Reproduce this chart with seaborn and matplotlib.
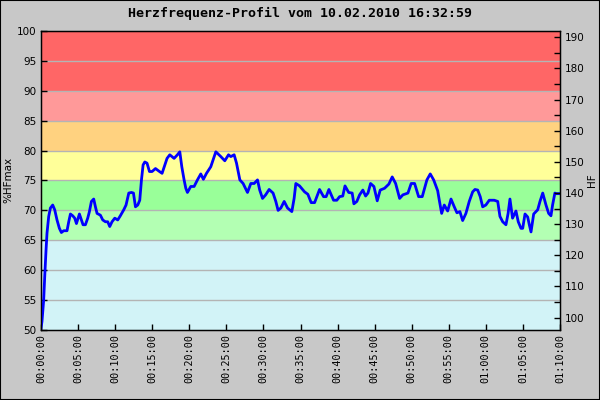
import matplotlib
matplotlib.use("Agg")
import matplotlib.pyplot as plt
import seaborn as sns
import pandas as pd
from matplotlib.patches import Rectangle

title = "Herzfrequenz-Profil vom 10.02.2010 16:32:59"
hf_max = 192

minutes = [0.0, 0.13, 0.36, 0.5, 0.68, 0.81, 1.04, 1.27, 1.58, 1.85, 2.16, 2.48, 2.75, 3.06, 3.51,
           3.74, 3.97, 4.28, 4.55, 4.78, 5.0, 5.18, 5.45, 5.67, 5.99, 6.3, 6.53, 6.8, 7.11, 7.34,
           7.56, 8.01, 8.33, 8.69, 9.0, 9.27, 9.58, 9.95, 10.35, 10.7, 11.16, 11.47, 11.84, 12.2,
           12.47, 12.74, 13.05, 13.32, 13.55, 13.77, 14.0, 14.3, 14.63, 14.98, 15.44, 15.98, 16.33,
           16.7, 17.0, 17.37, 17.95, 18.4, 18.72, 18.99, 19.3, 19.53, 19.75, 20.2, 20.65, 21.1,
           21.55, 21.9, 22.32, 22.9, 23.2, 23.58, 24.25, 24.79, 25.29, 25.6, 26.05, 26.37, 26.82,
           27.26, 27.85, 28.3, 28.75, 29.2, 29.5, 29.88, 30.3, 30.77, 31.3, 31.67, 31.98, 32.35,
           32.8, 33.25, 33.83, 34.14, 34.37, 34.87, 35.55, 35.99, 36.44, 36.9, 37.57, 38.11, 38.46,
           38.83, 39.46, 39.9, 40.27, 40.7, 41.0, 41.5, 41.97, 42.2, 42.6, 42.97, 43.41, 43.78,
           44.1, 44.45, 44.9, 45.35, 45.75, 46.34, 46.92, 47.37, 47.83, 48.37, 48.81, 49.49, 49.93,
           50.39, 50.93, 51.42, 51.6, 52.05, 52.5, 52.96, 53.5, 53.72, 54.04, 54.39, 54.85, 55.3,
           55.74, 56.1, 56.5, 56.87, 57.31, 57.76, 58.22, 58.53, 58.9, 59.24, 59.57, 60.0, 60.46,
           61.13, 61.6, 61.9, 62.27, 62.71, 63.0, 63.25, 63.6, 64.06, 64.37, 64.74, 64.97, 65.28,
           65.64, 65.86, 66.09, 66.45, 66.99, 67.3, 67.67, 68.11, 68.47, 68.78, 69.0, 69.31, 69.5,
           70.0]
pct_hfmax = [50.3, 51.4, 55.0, 58.9, 63.4, 66.2, 69.0, 70.4, 70.9, 70.1, 68.4, 67.0, 66.3, 66.6, 66.6,
             68.1, 69.4, 69.1, 68.7, 67.8, 68.7, 69.4, 68.4, 67.6, 67.6, 68.7, 69.8, 71.5, 71.9, 70.6,
             69.5, 69.2, 68.4, 68.1, 68.1, 67.3, 68.1, 68.7, 68.4, 69.1, 70.1, 70.9, 72.9, 73.0,
             72.9, 70.6, 70.9, 71.7, 75.1, 77.6, 78.1, 77.9, 76.5, 76.5, 77.0, 76.5, 76.2,
             77.6, 78.7, 79.3, 78.7, 79.3, 79.8, 77.3, 75.1, 73.7, 73.0, 74.0, 74.0, 75.1,
             76.1, 75.2, 76.2, 77.3, 78.4, 79.8, 79.0, 78.3, 79.3, 79.0, 79.3, 77.9, 75.1,
             74.5, 73.0, 74.5, 74.5, 75.1, 73.4, 72.0, 72.6, 73.5, 72.9, 71.5, 70.0, 70.4,
             71.5, 70.4, 69.8, 72.0, 74.5, 74.1, 73.1, 72.7, 71.3, 71.3, 73.5, 72.3, 72.3,
             73.5, 71.7, 71.7, 72.3, 72.4, 74.1, 73.0, 72.9, 71.1, 71.5, 72.6, 73.4, 72.4,
             72.9, 74.5, 74.0, 71.6, 73.4, 73.7, 74.4, 75.6, 74.5, 72.0, 72.6, 72.9, 74.5,
             74.5, 72.3, 72.3, 73.1, 75.1, 76.1, 75.1, 73.3, 71.7, 69.5, 70.9, 69.9, 71.9,
             70.6, 69.6, 69.8, 68.3, 69.5, 71.5, 73.1, 73.5, 73.4, 72.3, 70.6, 70.9, 71.7,
             71.7, 71.5, 69.0, 68.1, 67.6, 69.5, 71.9, 68.7, 69.9, 68.1, 67.0, 67.0, 69.4,
             68.9, 67.6, 66.4, 69.4, 70.1, 71.5, 72.9, 70.9, 69.5, 69.1, 70.9, 72.9, 72.8,
             72.8]

zone_edges = [50, 65, 70, 75, 80, 85, 90, 100]
zone_colors = ["#d2f3f7", "#b3ffb3", "#99ff99", "#ffff99", "#ffd280", "#ff9999", "#ff6666"]

x_ticks = list(range(0, 71, 5))
x_labels = ["00:00:00", "00:05:00", "00:10:00", "00:15:00", "00:20:00", "00:25:00", "00:30:00",
            "00:35:00", "00:40:00", "00:45:00", "00:50:00", "00:55:00", "01:00:00", "01:05:00",
            "01:10:00"]
y_ticks = list(range(50, 101, 5))
hf_ticks = list(range(100, 191, 10))

df = pd.DataFrame({"min": minutes, "pct": pct_hfmax})

bg = "#c8c8c8"
fig = plt.figure(figsize=(6, 4), dpi=100, facecolor=bg)
ax = fig.add_axes([41 / 600, 1 - 330 / 400, (560 - 41) / 600, (330 - 31) / 400])
fig.patches.append(Rectangle((0, 0), 1, 1, transform=fig.transFigure, fill=False,
                             edgecolor="black", linewidth=1.5))

for lo, hi, c in zip(zone_edges[:-1], zone_edges[1:], zone_colors):
    ax.axhspan(lo, hi, color=c, zorder=0, linewidth=0)
for yv in y_ticks[1:-1]:
    ax.axhline(yv, color="#b4b4b4", linewidth=1, zorder=1)

sns.lineplot(data=df, x="min", y="pct", ax=ax, color="#0000ff", linewidth=2, zorder=3)

ax.set_xlim(0, 70)
ax.set_ylim(50, 100)
ax.set_xticks(x_ticks)
ax.set_xticklabels(x_labels, rotation=90, family="DejaVu Sans Mono", fontsize=7.3)
ax.set_yticks(y_ticks)
ax.set_yticklabels([str(v) for v in y_ticks], fontsize=7.5)
ax.tick_params(axis="both", direction="in", length=4, width=1, color="black")
ax.tick_params(axis="x", pad=3)
ax.set_xlabel("")
ax.set_ylabel("")
for s in ax.spines.values():
    s.set_color("black")
    s.set_linewidth(1)

ax2 = ax.twinx()
ax2.set_ylim(50 * hf_max / 100, hf_max)
ax2.set_yticks(hf_ticks)
ax2.set_yticklabels([str(v) for v in hf_ticks], fontsize=7.5)
ax2.set_yticks(list(range(100, 191, 5)), minor=True)
ax2.tick_params(axis="y", which="both", direction="in", length=4, width=1, color="black")
ax2.set_ylabel("")

fig.text(8 / 600, 1 - 180 / 400, "%HFmax", rotation=90, ha="center", va="center", fontsize=7.5)
fig.text(592 / 600, 1 - 180 / 400, "HF", rotation=90, ha="center", va="center", fontsize=7.5)
fig.text(0.5, 1 - 13 / 400, title, ha="center", va="center", family="DejaVu Sans Mono",
         fontsize=9.5, fontweight="bold")

fig.savefig("out.png", dpi=100, facecolor=bg)
